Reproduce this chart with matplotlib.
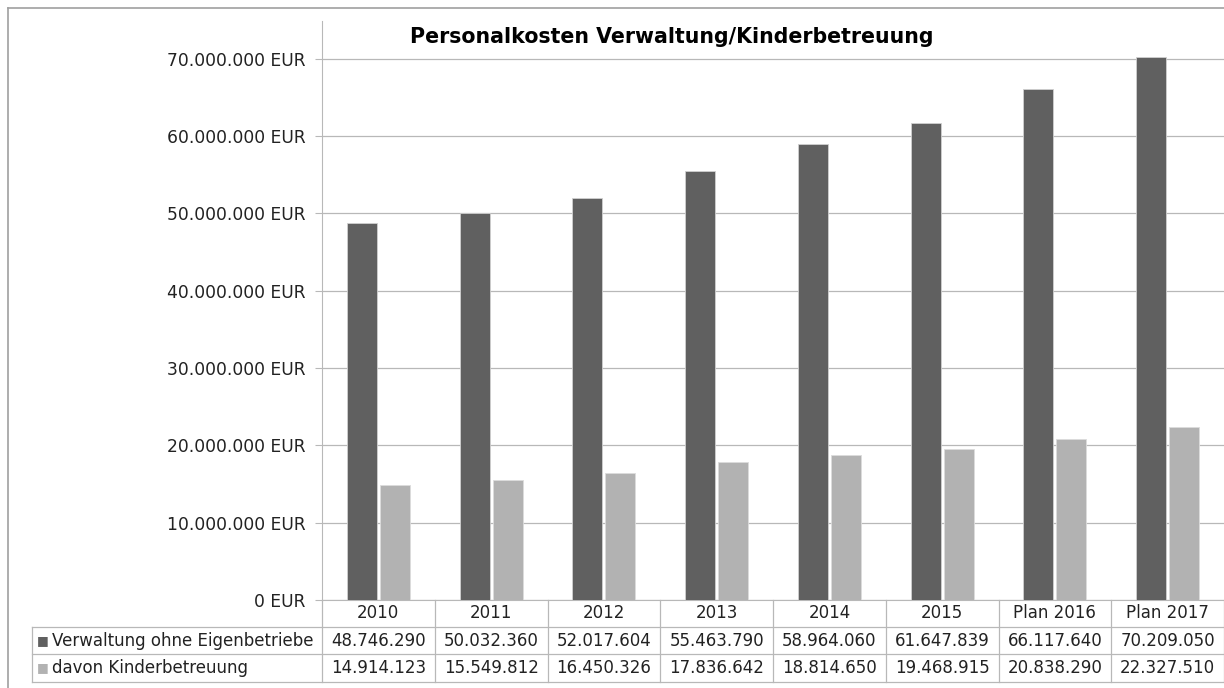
import matplotlib.pyplot as plt
import matplotlib.transforms as mtransforms
from matplotlib.lines import Line2D
import numpy as np

# data
categories = ['2010', '2011', '2012', '2013', '2014', '2015', 'Plan 2016', 'Plan 2017']
verwaltung = [48746290, 50032360, 52017604, 55463790, 58964060, 61647839, 66117640, 70209050]
kinder = [14914123, 15549812, 16450326, 17836642, 18814650, 19468915, 20838290, 22327510]
series_names = ['Verwaltung ohne Eigenbetriebe', 'davon Kinderbetreuung']
y_ticks = [0, 10000000, 20000000, 30000000, 40000000, 50000000, 60000000, 70000000]

W, H = 1224, 688
dark = '#606060'
light = '#b2b2b2'
grid = '#b8b8b8'
txt = '#222222'

plt.rcParams['font.family'] = ['DejaVu Sans']

fig = plt.figure(figsize=(W / 100, H / 100), dpi=100)
ax = fig.add_axes([322 / W, (H - 600) / H, (1224 - 322) / W, (600 - 21) / H])

x = np.arange(len(categories))
ax.bar(x - 0.146, verwaltung, width=0.265, color=dark, edgecolor='#d0d0d0', linewidth=0.6, zorder=3)
ax.bar(x + 0.146, kinder, width=0.265, color=light, edgecolor='#dcdcdc', linewidth=0.6, zorder=3)

ax.set_xlim(-0.5, len(categories) - 0.5)
ax.set_ylim(0, 74.9e6)
ax.set_yticks(y_ticks)
ax.set_yticklabels([f'{v:,.0f}'.replace(',', '.') + ' EUR' for v in y_ticks])
ax.tick_params(axis='y', length=5, color=grid, pad=7, labelsize=12.3, labelcolor=txt)
ax.set_xticks([])
ax.yaxis.grid(True, color=grid, linewidth=0.9, zorder=0)
ax.set_axisbelow(True)
for s in ['top', 'right']:
    ax.spines[s].set_visible(False)
ax.spines['left'].set_color(grid)
ax.spines['bottom'].set_color(grid)

# title
fig.text(672 / W, 1 - 37 / H, 'Personalkosten Verwaltung/Kinderbetreuung',
         ha='center', va='center', fontsize=14.8, fontweight='bold', color='black')

# data table below the axis
ax_h = 600 - 21
def yfrac(py):
    return -(py - 600) / ax_h

trans = mtransforms.blended_transform_factory(ax.transData, ax.transAxes)
row_tops = [600, 627, 654, 682]
label_x = (32 - 322) / (1224 - 322)

for i, cat in enumerate(categories):
    ax.text(i, yfrac(613.5), cat, transform=trans, ha='center', va='center',
            fontsize=12, color=txt, clip_on=False)
    ax.text(i, yfrac(640.5), f'{verwaltung[i]:,.0f}'.replace(',', '.'), transform=trans,
            ha='center', va='center', fontsize=12, color=txt, clip_on=False)
    ax.text(i, yfrac(668), f'{kinder[i]:,.0f}'.replace(',', '.'), transform=trans,
            ha='center', va='center', fontsize=12, color=txt, clip_on=False)

# table lines
for k in range(len(categories) + 1):
    ax.plot([k - 0.5, k - 0.5], [yfrac(600), yfrac(682)], transform=trans,
            color=grid, linewidth=0.9, clip_on=False)
for py in row_tops[1:]:
    ax.plot([label_x, 1.0], [yfrac(py), yfrac(py)], transform=ax.transAxes,
            color=grid, linewidth=0.9, clip_on=False)
ax.plot([label_x, label_x], [yfrac(627), yfrac(682)], transform=ax.transAxes,
        color=grid, linewidth=0.9, clip_on=False)

# row labels with colour squares
for name, col, py in zip(series_names, [dark, light], [640.5, 668]):
    fig.text(37 / W, 1 - py / H, '\u25a0', ha='left', va='center', fontsize=9, color=col)
    fig.text(52 / W, 1 - py / H, name, ha='left', va='center', fontsize=12, color=txt)

# outer frame
fig.add_artist(Line2D([8 / W, 1.0], [1 - 8 / H, 1 - 8 / H], color='#a0a0a0', linewidth=1.2))
fig.add_artist(Line2D([8 / W, 8 / W], [0, 1 - 8 / H], color='#a0a0a0', linewidth=1.2))

fig.savefig('out.png', dpi=100, facecolor='white')
